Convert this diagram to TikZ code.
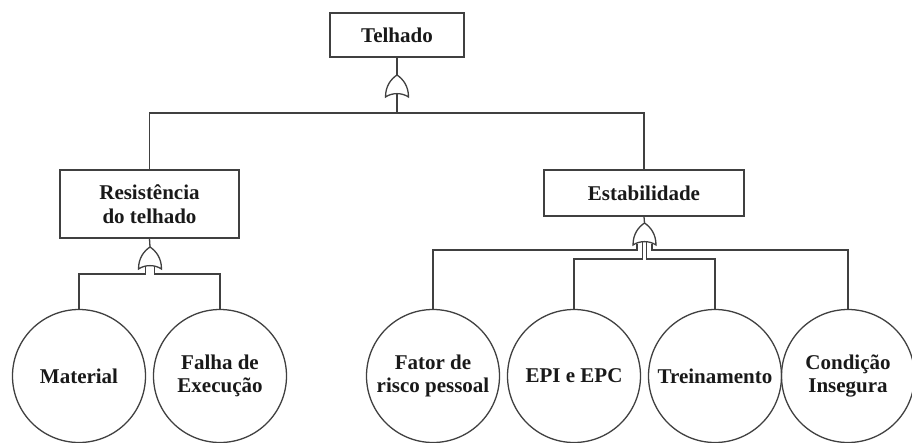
\documentclass[tikz,border=0pt]{standalone}
\usepackage{fontspec}
\setmainfont{Liberation Serif}
\begin{document}
\begin{tikzpicture}[x=1pt,y=-1pt,
  ln/.style={line width=1.3pt,draw=black!75},
  lbl/.style={font=\bfseries\fontsize{21}{23.5}\selectfont,text=black!90,align=center},
  evbox/.style={lbl,ln,rectangle,inner sep=0pt},
  basic/.style={lbl,ln,circle,minimum size=133pt,inner sep=0pt},
  orgate/.pic={\draw[ln] (-11.5,22) .. controls (-11.5,11) and (-6,4) .. (0,0)
     .. controls (6,4) and (11.5,11) .. (11.5,22)
     .. controls (5,17.5) and (-5,17.5) .. (-11.5,22) -- cycle;}
]
\useasboundingbox (0,0) rectangle (912,442);

% events
\node[evbox,minimum width=134pt,minimum height=44pt] (top) at (397,35) {Telhado};
\node[evbox,minimum width=179pt,minimum height=68pt] (res) at (149.5,204) {Resistência\\do telhado};
\node[evbox,minimum width=200pt,minimum height=46pt] (est) at (644,193) {Estabilidade};

% basic events
\node[basic] (mat) at (79,376) {Material};
\node[basic] (fal) at (220,376) {Falha de\\Execução};
\node[basic] (fat) at (433,376) {Fator de\\risco pessoal};
\node[basic] (epi) at (574,376) {EPI e EPC};
\node[basic] (tre) at (715,376) {Treinamento};
\node[basic] (con) at (848,376) {Condição\\Insegura};

% gates
\pic at (397,75) {orgate};
\coordinate (gTa) at (397,75);
\coordinate (gTb) at (397,93.5);
\coordinate (hT) at (397,113);

\pic at (150,247) {orgate};
\coordinate (gLa) at (150,247);
\coordinate (gLl) at (145.5,265.5);
\coordinate (gLr) at (154.5,265.5);
\coordinate (jLl) at (145.5,274);
\coordinate (jLr) at (154.5,274);

\pic at (644.5,223) {orgate};
\coordinate (gRa) at (644.5,223);
\coordinate (gRol) at (637,243.5);
\coordinate (gRor) at (652,243.5);
\coordinate (gRil) at (642.5,241.5);
\coordinate (gRir) at (646.5,241.5);
\coordinate (jRol) at (637,250);
\coordinate (jRor) at (652,250);
\coordinate (jRil) at (642.5,259);
\coordinate (jRir) at (646.5,259);

% connectors: top
\draw[ln] (top.south) -- (gTa);
\draw[ln] (gTb) -- (hT);
\draw[ln] (res.north) |- (hT) -| (est.north);

% connectors: left branch
\draw[ln] (res.south) -- (gLa);
\draw[ln] (gLl) -- (jLl) -| (mat.north);
\draw[ln] (gLr) -- (jLr) -| (fal.north);

% connectors: right branch
\draw[ln] (est.south) -- (gRa);
\draw[ln] (gRol) -- (jRol) -| (fat.north);
\draw[ln] (gRor) -- (jRor) -| (con.north);
\draw[ln] (gRil) -- (jRil) -| (epi.north);
\draw[ln] (gRir) -- (jRir) -| (tre.north);
\end{tikzpicture}
\end{document}
